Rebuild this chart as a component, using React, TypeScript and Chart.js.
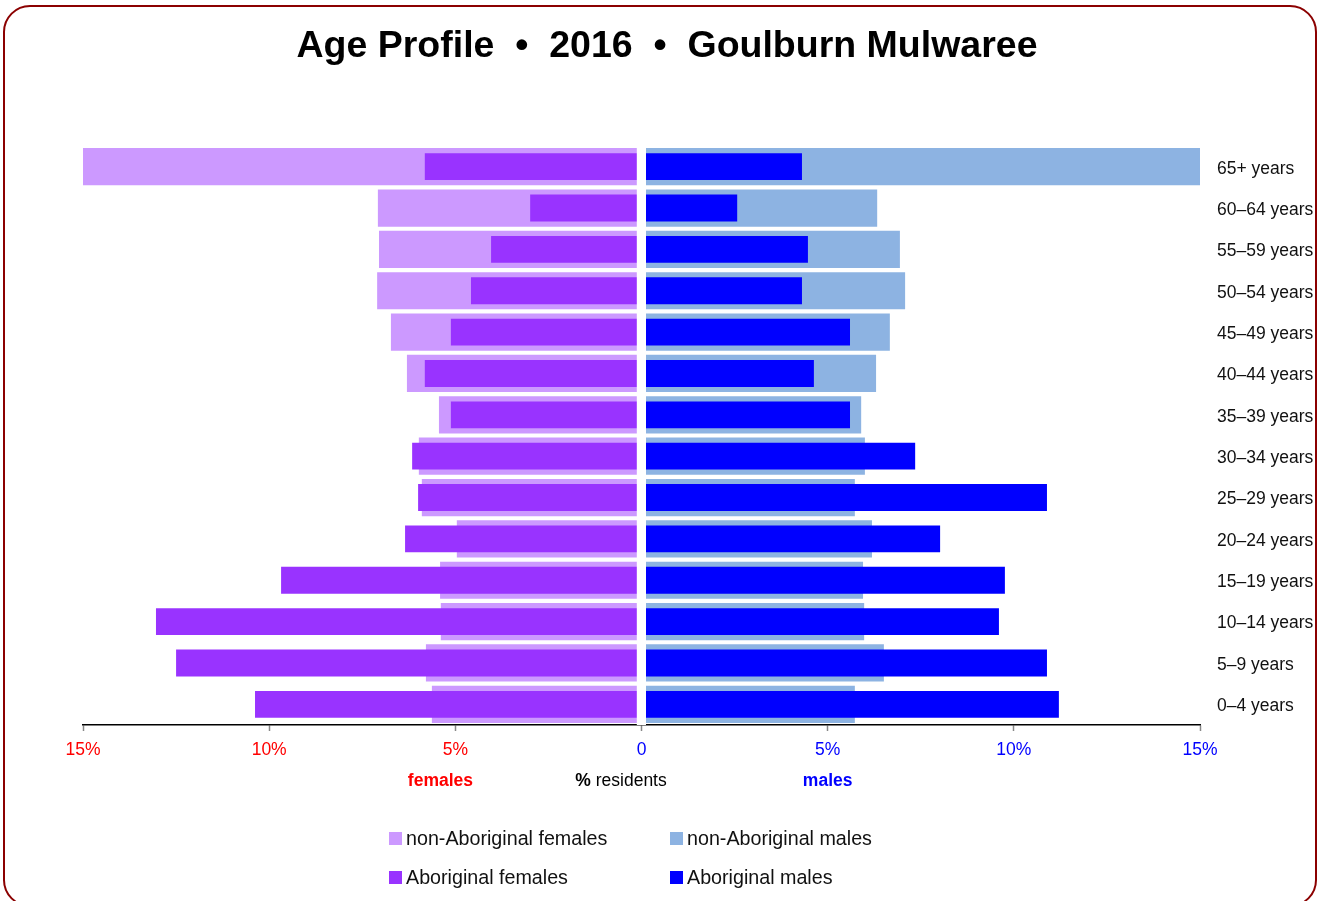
import React, { useEffect, useRef } from "react";
import { Chart, registerables } from "chart.js";

Chart.register(...registerables);

const ageGroups = [
  "0–4 years",
  "5–9 years",
  "10–14 years",
  "15–19 years",
  "20–24 years",
  "25–29 years",
  "30–34 years",
  "35–39 years",
  "40–44 years",
  "45–49 years",
  "50–54 years",
  "55–59 years",
  "60–64 years",
  "65+ years",
];

// % of residents, ordered 0–4 ... 65+
const nonAboriginalFemales = [5.63, 5.79, 5.39, 5.41, 4.96, 5.9, 5.98, 5.44, 6.3, 6.73, 7.1, 7.05, 7.08, 15.0];
const aboriginalFemales = [10.38, 12.5, 13.04, 9.68, 6.35, 6.0, 6.16, 5.12, 5.82, 5.12, 4.58, 4.04, 2.99, 5.82];
const nonAboriginalMales = [5.73, 6.51, 5.98, 5.95, 6.19, 5.73, 6.0, 5.9, 6.3, 6.67, 7.08, 6.94, 6.33, 15.0];
const aboriginalMales = [11.21, 10.89, 9.6, 9.76, 8.02, 10.89, 7.35, 5.6, 4.63, 5.6, 4.31, 4.47, 2.57, 4.31];

const xTicks = [-15, -10, -5, 0, 5, 10, 15];

const titleText = "Age Profile  •  2016  •  Goulburn Mulwaree";

const C_NA_F = "#cc99ff";
const C_A_F = "#9933ff";
const C_NA_M = "#8db3e2";
const C_A_M = "#0000ff";

const SANS = '"Liberation Sans", Arial, Helvetica, sans-serif';

const legendItems = [
  { label: "non-Aboriginal females", color: C_NA_F },
  { label: "non-Aboriginal males", color: C_NA_M },
  { label: "Aboriginal females", color: C_A_F },
  { label: "Aboriginal males", color: C_A_M },
];

const centerGapPlugin = {
  id: "centerGap",
  afterDatasetsDraw(chart: any) {
    const x = chart.scales.x;
    const area = chart.chartArea;
    const x0 = x.getPixelForValue(0);
    const ctx = chart.ctx;
    ctx.save();
    ctx.fillStyle = "#ffffff";
    ctx.fillRect(x0 - 4.7, area.top - 1, 9.2, area.bottom - area.top + 1);
    ctx.restore();
  },
  afterDraw(chart: any) {
    const ctx = chart.ctx;
    const x = chart.scales.x;
    const y = 781;
    ctx.save();
    ctx.textBaseline = "middle";
    ctx.textAlign = "center";
    ctx.font = `bold 17.5px ${SANS}`;
    ctx.fillStyle = "#ff0000";
    ctx.fillText("females", x.getPixelForValue(-5.4), y);
    ctx.fillStyle = "#0000ff";
    ctx.fillText("males", x.getPixelForValue(5), y);
    const boldPart = "%";
    const normPart = " residents";
    ctx.font = `bold 17.5px ${SANS}`;
    const w1 = ctx.measureText(boldPart).width;
    ctx.font = `17.5px ${SANS}`;
    const w2 = ctx.measureText(normPart).width;
    const cx = x.getPixelForValue(-0.55);
    const start = cx - (w1 + w2) / 2;
    ctx.textAlign = "left";
    ctx.fillStyle = "#000000";
    ctx.font = `bold 17.5px ${SANS}`;
    ctx.fillText(boldPart, start, y);
    ctx.font = `17.5px ${SANS}`;
    ctx.fillText(normPart, start + w1, y);
    ctx.restore();
  },
};

export default function App() {
  const canvasRef = useRef<HTMLCanvasElement | null>(null);

  useEffect(() => {
    const canvas = canvasRef.current;
    if (!canvas) return;
    const chart = new Chart(canvas, {
      type: "bar",
      data: {
        labels: ageGroups,
        datasets: [
          {
            label: "Aboriginal females",
            data: aboriginalFemales.map((v) => -v),
            backgroundColor: C_A_F,
            barPercentage: 0.65,
            categoryPercentage: 1,
            grouped: false,
            order: 0,
          },
          {
            label: "Aboriginal males",
            data: aboriginalMales,
            backgroundColor: C_A_M,
            barPercentage: 0.65,
            categoryPercentage: 1,
            grouped: false,
            order: 0,
          },
          {
            label: "non-Aboriginal females",
            data: nonAboriginalFemales.map((v) => -v),
            backgroundColor: C_NA_F,
            barPercentage: 0.9,
            categoryPercentage: 1,
            grouped: false,
            order: 1,
          },
          {
            label: "non-Aboriginal males",
            data: nonAboriginalMales,
            backgroundColor: C_NA_M,
            barPercentage: 0.9,
            categoryPercentage: 1,
            grouped: false,
            order: 1,
          },
        ],
      },
      options: {
        indexAxis: "y",
        animation: false,
        responsive: false,
        maintainAspectRatio: false,
        layout: { padding: { left: 83, right: 0, top: 146, bottom: 0 } },
        plugins: {
          legend: { display: false },
          tooltip: { enabled: false },
          title: { display: false },
        },
        scales: {
          x: {
            type: "linear",
            min: -15,
            max: 15,
            afterBuildTicks: (scale: any) => {
              scale.ticks = xTicks.map((v) => ({ value: v }));
            },
            afterFit: (scale: any) => {
              scale.height = 176;
            },
            border: { display: true, color: "#000000", width: 1.5 },
            grid: {
              display: true,
              drawOnChartArea: false,
              drawTicks: true,
              tickLength: 6,
              tickColor: "#888888",
              tickWidth: 1.5,
            },
            ticks: {
              padding: 9,
              maxRotation: 0,
              autoSkip: false,
              font: { family: SANS, size: 17.5 },
              color: (ctx: any) => (ctx.tick && ctx.tick.value < 0 ? "#ff0000" : "#0000ff"),
              callback: (v: any) => (Number(v) === 0 ? "0" : Math.abs(Number(v)) + "%"),
            },
          },
          y: {
            type: "category",
            position: "right",
            reverse: true,
            offset: true,
            afterFit: (scale: any) => {
              scale.width = 124;
            },
            border: { display: false },
            grid: { display: false, drawTicks: false },
            ticks: {
              padding: 17,
              labelOffset: 2,
              color: "#111111",
              font: { family: SANS, size: 17.5 },
            },
          },
        },
      },
      plugins: [centerGapPlugin],
    } as any);
    return () => chart.destroy();
  }, []);

  return (
    <div style={{ position: "absolute", left: 0, top: 0, width: 1324, height: 901, overflow: "hidden", background: "#ffffff" }}>
      <canvas ref={canvasRef} width={1324} height={901} style={{ position: "absolute", left: 0, top: 0 }} />
      <div
        style={{
          position: "absolute",
          left: 0,
          width: 1334,
          top: 24,
          textAlign: "center",
          fontFamily: SANS,
          fontWeight: "bold",
          fontSize: 37.5,
          lineHeight: "40px",
          color: "#000000",
          whiteSpace: "pre",
        }}
      >
        {titleText}
      </div>
      <div
        style={{
          position: "absolute",
          left: 3,
          top: 5,
          width: 1310,
          height: 898,
          border: "2.5px solid #8b0000",
          borderRadius: 27,
          pointerEvents: "none",
        }}
      />
      {legendItems.map((item, i) => {
        const col = i % 2;
        const row = Math.floor(i / 2);
        return (
          <div
            key={item.label}
            style={{
              position: "absolute",
              left: col === 0 ? 389 : 670,
              top: row === 0 ? 825 : 864,
              height: 26,
              display: "flex",
              alignItems: "center",
              fontFamily: SANS,
              fontSize: 19.7,
              color: "#111111",
              whiteSpace: "nowrap",
            }}
          >
            <span style={{ display: "inline-block", width: 13, height: 13, background: item.color, marginRight: 4 }} />
            <span>{item.label}</span>
          </div>
        );
      })}
    </div>
  );
}
